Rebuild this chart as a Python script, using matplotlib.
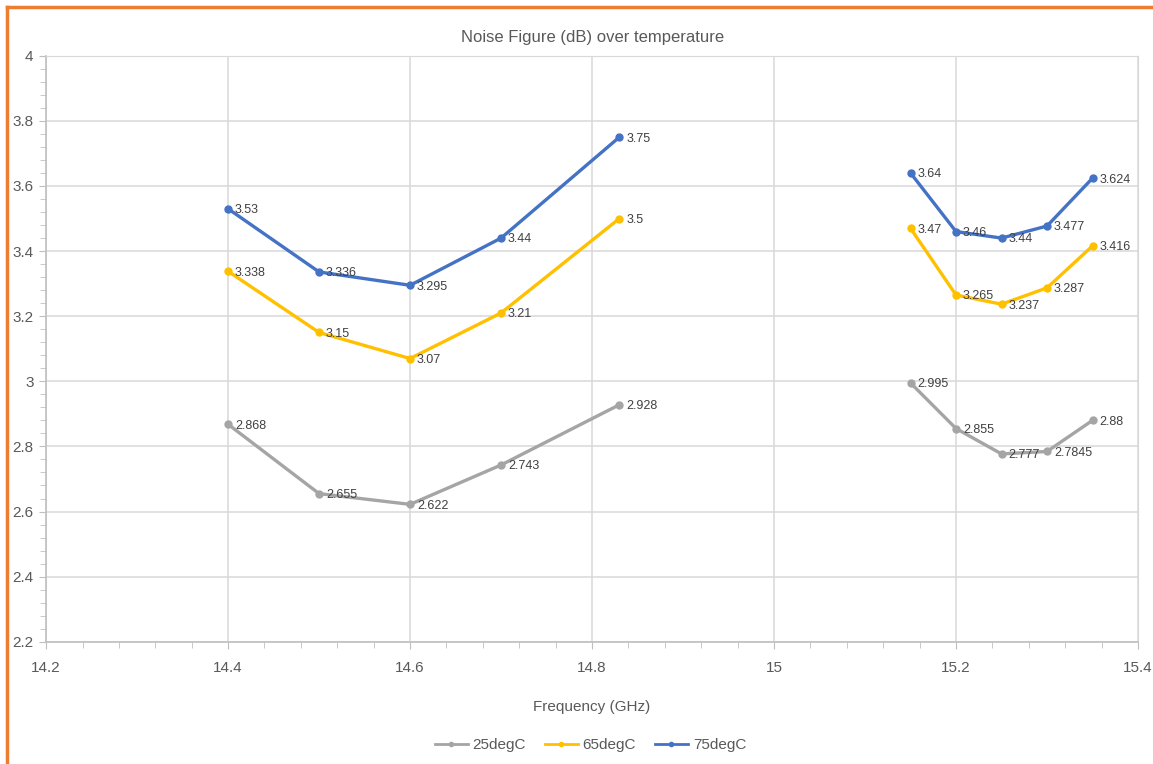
import matplotlib.pyplot as plt
import numpy as np
from matplotlib.ticker import MultipleLocator
from matplotlib.lines import Line2D

plt.rcParams["font.family"] = ["Liberation Sans", "DejaVu Sans"]

# Frequencies (GHz); NaN separates the two bands
freq = [14.4, 14.5, 14.6, 14.7, 14.83, np.nan, 15.15, 15.2, 15.25, 15.3, 15.35]
nf_25 = [2.868, 2.655, 2.622, 2.743, 2.928, np.nan, 2.995, 2.855, 2.777, 2.7845, 2.88]
nf_65 = [3.338, 3.15, 3.07, 3.21, 3.5, np.nan, 3.47, 3.265, 3.237, 3.287, 3.416]
nf_75 = [3.53, 3.336, 3.295, 3.44, 3.75, np.nan, 3.64, 3.46, 3.44, 3.477, 3.624]
labels = ["25degC", "65degC", "75degC"]
colors = ["#A5A5A5", "#FFC000", "#4472C4"]

fig = plt.figure(figsize=(11.53, 7.64), dpi=100)
ax = fig.add_axes([0.040, 0.160, 0.947, 0.767])

handles = []
for ys, lab, c in zip([nf_25, nf_65, nf_75], labels, colors):
    ax.plot(freq, ys, "-o", color=c, lw=2.4, ms=5, zorder=3)
    for x, y in zip(freq, ys):
        if np.isnan(y):
            continue
        ax.annotate("%g" % y, (x, y), xytext=(5, -1), textcoords="offset points",
                    va="center", ha="left", fontsize=9, color="#404040")
    handles.append(Line2D([], [], color=c, lw=2, marker="o", ms=3))

ax.set_xlim(14.2, 15.4)
ax.set_ylim(2.2, 4.0)
ax.xaxis.set_minor_locator(MultipleLocator(0.04))
ax.yaxis.set_minor_locator(MultipleLocator(0.04))
ax.set_xticks(np.arange(14.2, 15.41, 0.2))
ax.set_xticklabels(["14.2", "14.4", "14.6", "14.8", "15", "15.2", "15.4"])
ax.set_yticks(np.arange(2.2, 4.01, 0.2))
ax.set_yticklabels(["2.2", "2.4", "2.6", "2.8", "3", "3.2", "3.4", "3.6", "3.8", "4"])
ax.grid(True, which="major", color="#D9D9D9", lw=1.1)
ax.set_axisbelow(True)
for s in ["top", "right"]:
    ax.spines[s].set_color("#D9D9D9")
for s in ["left", "bottom"]:
    ax.spines[s].set_color("#BFBFBF")
    ax.spines[s].set_linewidth(1.2)
ax.tick_params(which="major", length=5, color="#BFBFBF", labelsize=11, labelcolor="#595959")
ax.tick_params(axis="x", which="major", pad=9)
ax.tick_params(axis="y", which="major", pad=4)
ax.tick_params(which="minor", length=4, color="#BFBFBF")

ax.set_title("Noise Figure (dB) over temperature", fontsize=12, color="#595959", pad=10)
ax.set_xlabel("Frequency (GHz)", fontsize=11, color="#595959", labelpad=18)
fig.legend(handles, labels, loc="center", bbox_to_anchor=(0.512, 0.025), ncol=3,
           frameon=False, fontsize=11, labelcolor="#595959", handlelength=2.2,
           handletextpad=0.3, columnspacing=1.2)

# orange frame visible at top and left
fig.add_artist(Line2D([0.006, 1.0], [0.991, 0.991], color="#ED7D31", lw=2.5))
fig.add_artist(Line2D([0.006, 0.006], [0.0, 0.991], color="#ED7D31", lw=2.5))

fig.savefig("out.png", dpi=100)
